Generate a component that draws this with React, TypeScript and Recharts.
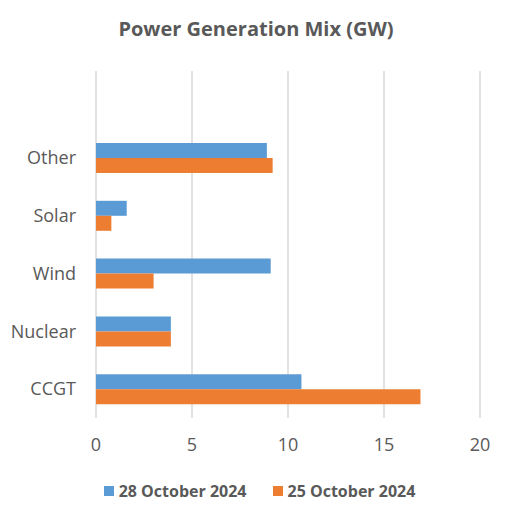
import React from "react";
import { BarChart, Bar, XAxis, YAxis, CartesianGrid, Legend } from "recharts";

const categories = ["Other", "Solar", "Wind", "Nuclear", "CCGT"];
const oct28 = [8.9, 1.6, 9.1, 3.9, 10.7];
const oct25 = [9.2, 0.8, 3.0, 3.9, 16.9];
const xTicks = [0, 5, 10, 15, 20];

const series = [
  { key: "oct28", name: "28 October 2024", color: "#5B9BD5" },
  { key: "oct25", name: "25 October 2024", color: "#ED7D31" },
];

const data = categories.map((name, i) => ({ name, oct28: oct28[i], oct25: oct25[i] }));

const FONT = "'Open Sans', sans-serif";
const TEXT = "#595959";

function LegendContent() {
  return (
    <div style={{ display: "flex", justifyContent: "center", gap: 26, fontFamily: FONT, paddingLeft: 39 }}>
      {series.map((s) => (
        <div key={s.key} style={{ display: "flex", alignItems: "center", gap: 5 }}>
          <span style={{ width: 10, height: 10, background: s.color, display: "inline-block" }} />
          <span style={{ fontSize: 16, fontWeight: 700, color: TEXT }}>{s.name}</span>
        </div>
      ))}
    </div>
  );
}

export default function App() {
  return (
    <div style={{ position: "absolute", left: 0, top: 0, width: 512, height: 519, background: "#fff" }}>
      <div
        style={{
          position: "absolute",
          top: 15,
          width: 512,
          textAlign: "center",
          fontFamily: FONT,
          fontWeight: 700,
          fontSize: 20,
          color: TEXT,
        }}
      >
        Power Generation Mix (GW)
      </div>
      <BarChart
        width={512}
        height={519}
        data={data}
        layout="vertical"
        margin={{ top: 71, right: 32, left: 0, bottom: 15 }}
        barGap={0}
        barSize={15}
      >
        <CartesianGrid horizontal={false} stroke="#D9D9D9" strokeWidth={1.5} />
        <XAxis
          type="number"
          domain={[0, 20]}
          ticks={xTicks}
          axisLine={false}
          tickLine={false}
          tickSize={0}
          tickMargin={20}
          height={62}
          tick={{ fill: TEXT, fontSize: 18, fontFamily: FONT }}
        />
        <YAxis
          type="category"
          dataKey="name"
          width={96}
          axisLine={false}
          tickLine={false}
          tickSize={0}
          tickMargin={20}
          padding={{ top: 58, bottom: 0 }}
          tick={{ fill: TEXT, fontSize: 18, fontFamily: FONT }}
        />
        <Legend content={<LegendContent />} verticalAlign="bottom" height={24} />
        {series.map((s) => (
          <Bar key={s.key} dataKey={s.key} name={s.name} fill={s.color} isAnimationActive={false} />
        ))}
      </BarChart>
    </div>
  );
}
